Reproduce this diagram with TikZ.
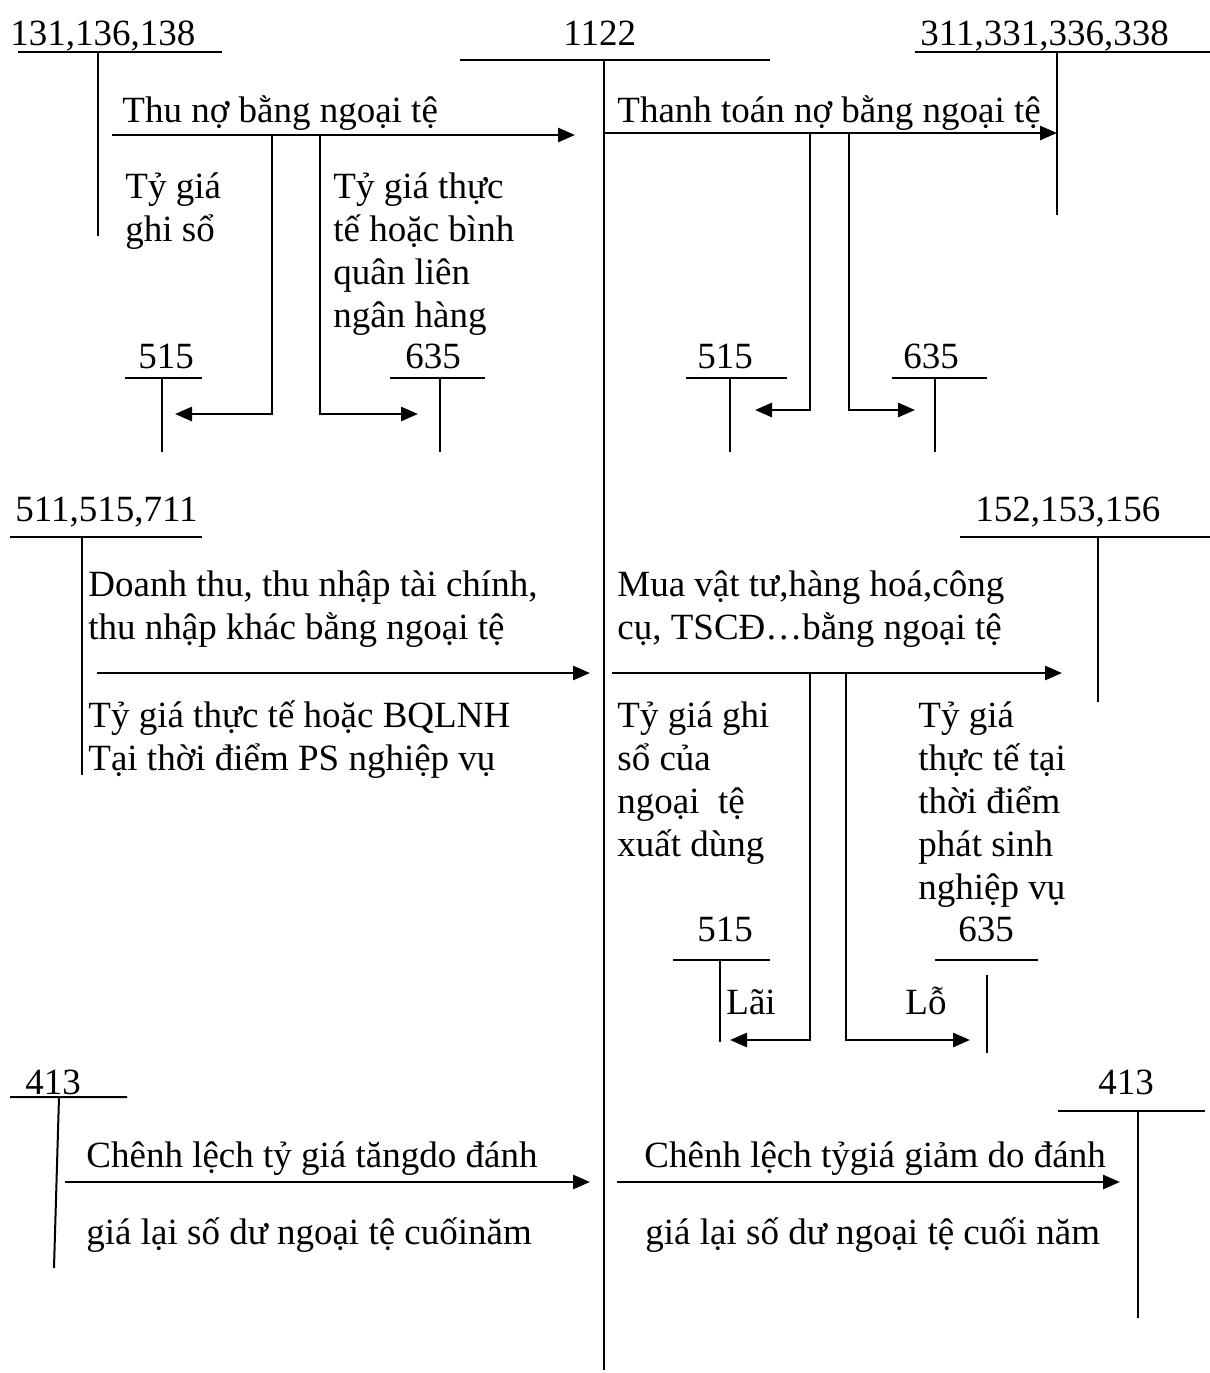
\documentclass[tikz,border=0pt]{standalone}
\usepackage{fontspec}
\setmainfont{Liberation Serif}
\usetikzlibrary{arrows.meta, positioning}

\begin{document}
\begin{tikzpicture}[x=0.5pt, y=-0.5pt,
  txt/.style={font=\fontsize{18.5}{21.5}\selectfont, inner sep=0pt, anchor=base west, align=left},
  acct/.style={line width=1pt},
  arrow/.style={-{Triangle[length=8.5pt, width=7pt]}, line width=1.4pt}
]
  \useasboundingbox (0,0) rectangle (1210,1373);

  % account titles
  \node[txt] (k131) at (10,45) {131,136,138};
  \node[txt] (k1122) at (563,45) {1122};
  \node[txt] (k311) at (920,45) {311,331,336,338};
  \node[txt] (k515a) at (138,368) {515};
  \node[txt] (k635a) at (405,368) {635};
  \node[txt] (k515b) at (697,368) {515};
  \node[txt] (k635b) at (903,368) {635};
  \node[txt] (k511) at (15,521) {511,515,711};
  \node[txt] (k152) at (975,521) {152,153,156};
  \node[txt] (k515c) at (697,941) {515};
  \node[txt] (k635c) at (958,941) {635};
  \node[txt] (k413a) at (25,1094) {413};
  \node[txt] (k413b) at (1098,1094) {413};

  % T accounts
  \draw[acct] (18,52) -- (222,52) (98,52) -- (98,236);
  \draw[acct] (460,60) -- (770,60) (604,60) -- (604,1370);
  \draw[acct] (915,52) -- (1210,52) (1057,52) -- (1057,215);
  \draw[acct] (125,378) -- (202,378) (162,378) -- (162,452);
  \draw[acct] (390,378) -- (485,378) (440,378) -- (440,452);
  \draw[acct] (686,378) -- (787,378) (730,378) -- (730,452);
  \draw[acct] (892,378) -- (987,378) (935,378) -- (935,452);
  \draw[acct] (10,537) -- (202,537) (82,537) -- (82,775);
  \draw[acct] (960,537) -- (1210,537) (1098,537) -- (1098,702);
  \draw[acct] (673,960) -- (770,960) (720,960) -- (720,1042);
  \draw[acct] (935,960) -- (1038,960) (987,975) -- (987,1053);
  \draw[acct] (10,1097) -- (127,1097) (59,1097) -- (54,1268);
  \draw[acct] (1058,1111) -- (1205,1111) (1138,1111) -- (1138,1318);

  % transaction texts (base = last line)
  \node[txt] (thu) at (122,122) {Thu nợ bằng ngoại tệ};
  \node[txt] (ghiso) at (125,241) {Tỷ giá\\ghi sổ};
  \node[txt] (bqlnh) at (333,327) {Tỷ giá thực\\tế hoặc bình\\quân liên\\ngân hàng};
  \node[txt] (thanhtoan) at (617,122) {Thanh toán nợ bằng ngoại tệ};
  \node[txt] (doanhthu) at (88,639) {Doanh thu, thu nhập tài chính,\\thu nhập khác bằng ngoại tệ};
  \node[txt] (tgthucte) at (88,770) {Tỷ giá thực tế hoặc BQLNH\\Tại thời điểm PS nghiệp vụ};
  \node[txt] (mua) at (617,639) {Mua vật tư,hàng hoá,công\\cụ, TSCĐ…bằng ngoại tệ};
  \node[txt] (xuat) at (617,856) {Tỷ giá ghi\\sổ của\\ngoại\ \ tệ\\xuất dùng};
  \node[txt] (phatsinh) at (918,899) {Tỷ giá\\thực tế tại\\thời điểm\\phát sinh\\nghiệp vụ};
  \node[txt] (lai) at (726,1014) {Lãi};
  \node[txt] (lo) at (905,1014) {Lỗ};
  \node[txt] (tang) at (86,1167) {Chênh lệch tỷ giá tăngdo đánh};
  \node[txt] (tang2) at (86,1244) {giá lại số dư ngoại tệ cuốinăm};
  \node[txt] (giam) at (644,1167) {Chênh lệch tỷgiá giảm do đánh};
  \node[txt] (giam2) at (645,1244) {giá lại số dư ngoại tệ cuối năm};

  % arrow ends
  \coordinate (thu-s) at (112,135);
  \coordinate (thu-e) at (575,135);
  \coordinate (thu-l) at (272,135);
  \coordinate (thu-r) at (320,135);
  \coordinate (lai-a) at (175,414);
  \coordinate (lo-a) at (418,414);
  \coordinate (tt-s) at (604,133);
  \coordinate (tt-e) at (1057,133);
  \coordinate (tt-l) at (810,133);
  \coordinate (tt-r) at (849,133);
  \coordinate (lai-b) at (755,410);
  \coordinate (lo-b) at (915,410);
  \coordinate (dt-s) at (97,673);
  \coordinate (dt-e) at (590,673);
  \coordinate (mua-s) at (612,673);
  \coordinate (mua-e) at (1062,673);
  \coordinate (mua-l) at (810,673);
  \coordinate (mua-r) at (846,673);
  \coordinate (lai-c) at (730,1040);
  \coordinate (lo-c) at (970,1040);
  \coordinate (tang-s) at (65,1182);
  \coordinate (tang-e) at (590,1182);
  \coordinate (giam-s) at (617,1182);
  \coordinate (giam-e) at (1120,1182);

  \draw[arrow] (thu-s) -- (thu-e);
  \draw[arrow] (thu-l) |- (lai-a);
  \draw[arrow] (thu-r) |- (lo-a);
  \draw[arrow] (tt-s) -- (tt-e);
  \draw[arrow] (tt-l) |- (lai-b);
  \draw[arrow] (tt-r) |- (lo-b);
  \draw[arrow] (dt-s) -- (dt-e);
  \draw[arrow] (mua-s) -- (mua-e);
  \draw[arrow] (mua-l) |- (lai-c);
  \draw[arrow] (mua-r) |- (lo-c);
  \draw[arrow] (tang-s) -- (tang-e);
  \draw[arrow] (giam-s) -- (giam-e);
\end{tikzpicture}
\end{document}
